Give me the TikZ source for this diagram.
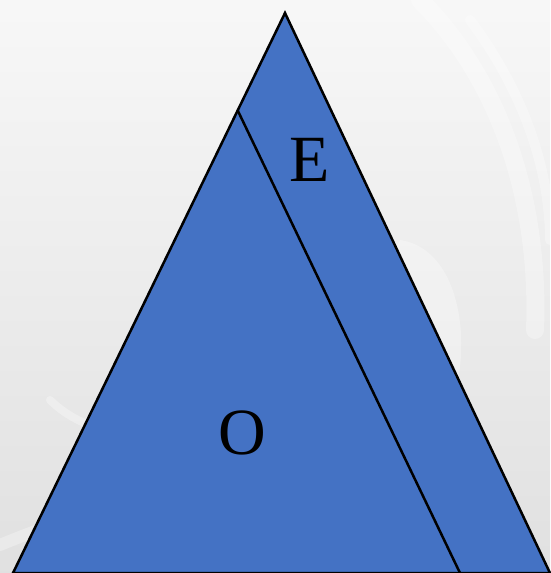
\documentclass[tikz,border=0pt]{standalone}
\usepackage{fontspec}
\setmainfont{Liberation Serif}
\begin{document}
\begin{tikzpicture}[x=1pt,y=-1pt,
  tribox/.style={fill=tblue,draw=black,line width=2.5pt,line join=miter},
  lbl/.style={font=\fontsize{66}{66}\selectfont,text=black,inner sep=0pt},
  swirl/.style={draw=white,opacity=0.3,line cap=round}]
\definecolor{tblue}{HTML}{4472C4}
\useasboundingbox (0,0) rectangle (550,573);
% background
\shade[top color=white!97!black, bottom color=black!12] (0,0) rectangle (550,573);
% faint swirls
\draw[swirl,line width=18pt] (420,0) .. controls (500,80) and (540,200) .. (535,330);
\draw[swirl,line width=10pt] (470,20) .. controls (530,100) and (550,180) .. (550,240);
\fill[white,opacity=0.3] (400,240) .. controls (470,250) and (480,380) .. (430,450)
  -- (400,430) .. controls (440,370) and (430,280) .. (390,260) -- cycle;
\draw[swirl,line width=8pt] (50,400) .. controls (60,410) and (75,420) .. (90,425);
\draw[swirl,line width=12pt] (0,545) .. controls (60,520) and (100,510) .. (130,505);
% triangle
\coordinate (A) at (285,13);
\coordinate (L) at (13,573);
\coordinate (R) at (550,573);
\coordinate (P) at (237.5,110);
\coordinate (Q) at (460,573);
\filldraw[tribox] (A) -- (R) -- (L) -- cycle;
\draw[line width=2.5pt] (P) -- (Q);
\node[lbl] (E) at (310,160) {E};
\node[lbl] (O) at (242,433) {O};
\end{tikzpicture}
\end{document}
